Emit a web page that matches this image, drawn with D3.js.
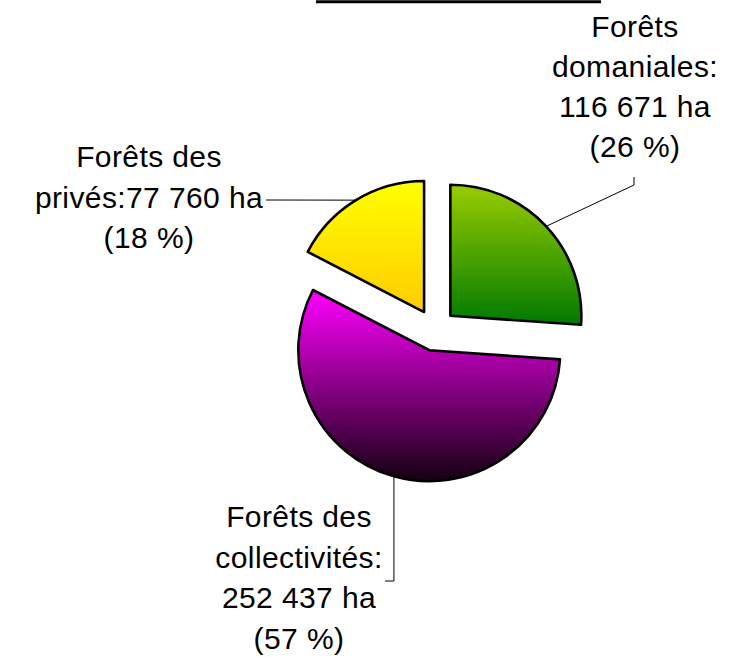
<!DOCTYPE html>
<html>
<head>
<meta charset="utf-8">
<script src="https://cdn.jsdelivr.net/npm/d3@7"></script>
<style>
  body { margin: 0; background: #fff; }
  text { font-family: "Liberation Sans", Arial, sans-serif; }
</style>
</head>
<body>
<script>
// données
const categories = ["Forêts domaniales", "Forêts des collectivités", "Forêts des privés"];
const surfaces = [116671, 252437, 77760]; // ha
const labels = [
    ["Forêts", "domaniales:", "116 671 ha", "(26 %)"],
    ["Forêts des", "collectivités:", "252 437 ha", "(57 %)"],
    ["Forêts des", "privés:77 760 ha", "(18 %)"]
];
const titre = "Répartition des forêts";

// couleurs des dégradés (haut -> bas)
const gradients = [
    ["#99cc00", "#007a00"],
    ["#ff00ff", "#140010"],
    ["#ffff00", "#ffcc00"]
];

var config = {
    parent: 'body',
    width: 735,
    height: 657,
    cx: 435, cy: 330, r: 131, explode: 21,
    fontSize: 30,
    // position des étiquettes: centre x, ligne de base de la 1ère ligne, interligne
    labelPos: [
        {x: 635, y: 37, dy: 40},
        {x: 299, y: 527, dy: 40.5},
        {x: 149, y: 167, dy: 40.5}
    ]
};

class ExplodedPie {
    constructor(config) {
        this.config = config;
        this.init();
    }

    init() {
        let self = this;
        self.svg = d3.select(self.config.parent)
            .append('svg')
            .attr('width', self.config.width)
            .attr('height', self.config.height);

        let defs = self.svg.append('defs');
        gradients.forEach((g, i) => {
            let lg = defs.append('linearGradient')
                .attr('id', 'grad' + i)
                .attr('x1', 0).attr('y1', 0)
                .attr('x2', 0).attr('y2', 1);
            lg.append('stop').attr('offset', '0%').attr('stop-color', g[0]);
            lg.append('stop').attr('offset', '100%').attr('stop-color', g[1]);
        });

        self.pie = d3.pie().sort(null).value(d => d);
        self.arc = d3.arc().innerRadius(0).outerRadius(self.config.r);
    }

    render() {
        let self = this;
        const c = self.config;
        const slices = self.pie(surfaces);

        // titre (coupé en haut de l'image, seul le soulignement est visible)
        self.svg.append('text')
            .attr('x', 316)
            .attr('y', -8)
            .attr('font-size', 28)
            .attr('font-weight', 'bold')
            .attr('textLength', 285)
            .attr('lengthAdjust', 'spacingAndGlyphs')
            .text(titre);
        self.svg.append('line')
            .attr('x1', 316).attr('x2', 601)
            .attr('y1', 1.7).attr('y2', 1.7)
            .attr('stroke', '#000')
            .attr('stroke-width', 3);

        const mid = d => (d.startAngle + d.endAngle) / 2;
        const off = d => [Math.sin(mid(d)) * c.explode, -Math.cos(mid(d)) * c.explode];

        self.svg.append('g')
            .attr('transform', `translate(${c.cx},${c.cy})`)
            .selectAll('path')
            .data(slices)
            .enter()
            .append('path')
            .attr('transform', d => `translate(${off(d)[0]},${off(d)[1]})`)
            .attr('d', self.arc)
            .attr('fill', (d, i) => `url(#grad${i})`)
            .attr('stroke', '#000')
            .attr('stroke-width', 2.6)
            .attr('stroke-linejoin', 'round');

        // lignes de rappel
        const edge = d => {
            let a = mid(d), rr = c.r + c.explode;
            return [c.cx + Math.sin(a) * rr, c.cy - Math.cos(a) * rr];
        };
        const leaders = [
            p => [p, [634, 185], [634, 177]],
            p => [p, [p[0], 581], [385, 581]],
            p => [p, [266, 200]]
        ];
        self.svg.append('g')
            .selectAll('path')
            .data(slices)
            .enter()
            .append('path')
            .attr('d', (d, i) => d3.line()(leaders[i](edge(d))))
            .attr('fill', 'none')
            .attr('stroke', '#000')
            .attr('stroke-width', 1);

        // étiquettes
        labels.forEach((lines, i) => {
            let p = c.labelPos[i];
            let t = self.svg.append('text')
                .attr('text-anchor', 'middle')
                .attr('font-size', c.fontSize)
                .attr('letter-spacing', 0.4)
                .attr('fill', '#000');
            lines.forEach((s, j) => {
                t.append('tspan')
                    .attr('x', p.x)
                    .attr('y', p.y + j * p.dy)
                    .text(s);
            });
        });
    }
}

const chart = new ExplodedPie(config);
chart.render();
</script>
</body>
</html>
